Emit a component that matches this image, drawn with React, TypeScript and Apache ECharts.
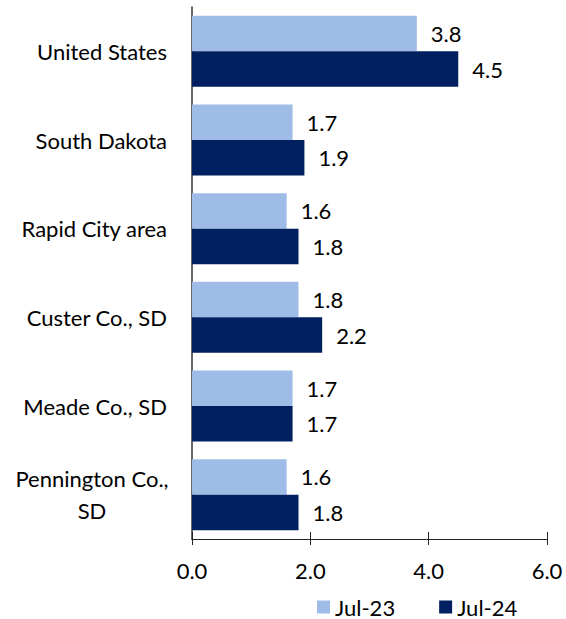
import React, { useEffect, useRef } from "react";
import * as echarts from "echarts";

const categories = [
  "United States",
  "South Dakota",
  "Rapid City area",
  "Custer Co., SD",
  "Meade Co., SD",
  "Pennington Co.,\nSD",
];
const jul23 = [3.8, 1.7, 1.6, 1.8, 1.7, 1.6];
const jul24 = [4.5, 1.9, 1.8, 2.2, 1.7, 1.8];
const xTicks = [0, 2, 4, 6];

const FONT = "Lato";
const FS = 22;

export default function App() {
  const ref = useRef<HTMLDivElement>(null);
  useEffect(() => {
    document.body.style.margin = "0";
    const chart = echarts.init(ref.current!, null, { renderer: "svg" });
    const label = {
      show: true,
      position: "right",
      distance: 14,
      color: "#000",
      fontFamily: FONT,
      fontSize: FS,
      formatter: (p: any) => Number(p.value).toFixed(1),
    };
    chart.setOption({
      animation: false,
      textStyle: { fontFamily: FONT },
      grid: { left: 192, top: 7, width: 355, height: 532, containLabel: false },
      legend: {
        left: 317,
        top: 596,
        padding: 0,
        icon: "rect",
        itemWidth: 13,
        itemHeight: 13,
        itemGap: 44,
        textStyle: { fontFamily: FONT, fontSize: FS, color: "#000" },
        data: ["Jul-23", "Jul-24"],
      },
      xAxis: [
        {
          type: "value",
          min: xTicks[0],
          max: xTicks[xTicks.length - 1],
          interval: 2,
          axisLine: { show: true, lineStyle: { color: "#222", width: 1 } },
          axisTick: { show: true, length: 6, lineStyle: { color: "#222" } },
          axisLabel: {
            margin: 20,
            color: "#000",
            fontFamily: FONT,
            fontSize: FS,
            formatter: (v: number) => v.toFixed(1),
          },
          splitLine: { show: false },
        },
        {
          type: "value",
          position: "bottom",
          min: xTicks[0],
          max: xTicks[xTicks.length - 1],
          interval: 2,
          axisLine: { show: false },
          axisTick: { show: true, inside: true, length: 7, lineStyle: { color: "#222" } },
          axisLabel: { show: false },
          splitLine: { show: false },
        },
      ],
      yAxis: {
        type: "category",
        inverse: true,
        data: categories,
        axisLine: { show: true, lineStyle: { color: "#333", width: 1.5 } },
        axisTick: { show: false },
        axisLabel: {
          margin: 25,
          color: "#000",
          fontFamily: FONT,
          fontSize: FS,
          lineHeight: 32,
          align: "right",
          formatter: (v: string) =>
            v.indexOf("\n") >= 0
              ? v.split("\n").map((s) => "{c|" + s + "}").join("\n")
              : v,
          rich: {
            c: {
              width: 150,
              align: "center",
              fontFamily: FONT,
              fontSize: FS,
              color: "#000",
              lineHeight: 32,
            },
          },
        },
      },
      series: [
        {
          name: "Jul-23",
          type: "bar",
          data: jul23,
          itemStyle: { color: "#9FBCE6" },
          barGap: "0%",
          barCategoryGap: "20%",
          label,
        },
        {
          name: "Jul-24",
          type: "bar",
          data: jul24,
          itemStyle: { color: "#002060" },
          barGap: "0%",
          barCategoryGap: "20%",
          label,
        },
      ],
    });
    return () => chart.dispose();
  }, []);
  return <div ref={ref} style={{ width: 566, height: 619 }} />;
}
